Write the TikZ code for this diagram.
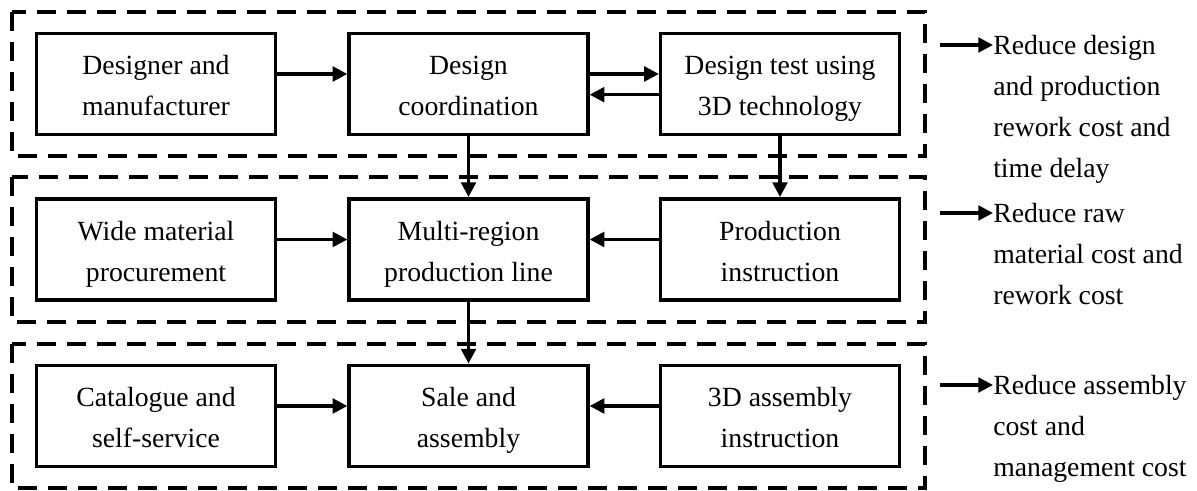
\documentclass[tikz,border=0pt]{standalone}
\usepackage{fontspec}
\setmainfont{Liberation Serif}
\usetikzlibrary{arrows.meta}
\newcommand\lnstrut{\rule[-6.75pt]{0pt}{30.75pt}}
\newcommand\twolines[2]{\lnstrut #1\\\lnstrut #2}
\begin{document}
\begin{tikzpicture}[x=0.75pt,y=-0.75pt,
  txt/.style={font=\fontsize{20.8}{30.75}\selectfont},
  procbox/.style={draw, line width=2.7pt, minimum width=179pt, minimum height=76pt, align=center, inner sep=0pt, txt},
  groupbox/.style={draw, line width=2.7pt, dash pattern=on 14pt off 8.5pt},
  arr/.style={line width=2.4pt, -{Triangle[length=11pt,width=11pt]}},
  sidetext/.style={align=left, inner sep=0pt, anchor=north west, txt}]
\useasboundingbox (0,0) rectangle (1197,491);
% group frames
\draw[groupbox] (12,12) rectangle (925,156);
\draw[groupbox] (12,177) rectangle (925,322);
\draw[groupbox] (12,344) rectangle (925,488);
% row 1
\node[procbox] (dm) at (156,84) {\twolines{Designer and}{manufacturer}};
\node[procbox] (dc) at (468.5,84) {\twolines{Design}{coordination}};
\node[procbox] (dt) at (780,84) {\twolines{Design test using}{3D technology}};
% row 2
\node[procbox] (wm) at (156,249.5) {\twolines{Wide material}{procurement}};
\node[procbox] (mr) at (468.5,249.5) {\twolines{Multi-region}{production line}};
\node[procbox] (pi) at (780,249.5) {\twolines{Production}{instruction}};
% row 3
\node[procbox] (cs) at (156,416) {\twolines{Catalogue and}{self-service}};
\node[procbox] (sa) at (468.5,416) {\twolines{Sale and}{assembly}};
\node[procbox] (ai) at (780,416) {\twolines{3D assembly}{instruction}};
% connectors
\draw[arr] ([yshift=7.5pt]dm.east) -- ([yshift=7.5pt]dc.west);
\draw[arr] ([yshift=7.5pt]dc.east) -- ([yshift=7.5pt]dt.west);
\draw[arr] ([yshift=-8pt]dt.west) -- ([yshift=-8pt]dc.east);
\draw[arr] (dc.south) -- (mr.north);
\draw[arr] (dt.south) -- (pi.north);
\draw[arr] ([yshift=7.5pt]wm.east) -- ([yshift=7.5pt]mr.west);
\draw[arr] ([yshift=7.5pt]pi.west) -- ([yshift=7.5pt]mr.east);
\draw[arr] (mr.south) -- (sa.north);
\draw[arr] ([yshift=7.5pt]cs.east) -- ([yshift=7.5pt]sa.west);
\draw[arr] ([yshift=7.5pt]ai.west) -- ([yshift=7.5pt]sa.east);
% side notes
\node[sidetext] (n1) at (993,35) {Reduce design\\and production\\rework cost and\\time delay};
\node[sidetext] (n2) at (993,203) {Reduce raw\\material cost and\\rework cost};
\node[sidetext] (n3) at (993,375) {Reduce assembly\\cost and\\management cost};
\coordinate (s1) at (940,45);
\coordinate (s2) at (940,213);
\coordinate (s3) at (940,385);
\draw[arr] (s1) -- (s1 -| n1.west);
\draw[arr] (s2) -- (s2 -| n2.west);
\draw[arr] (s3) -- (s3 -| n3.west);
\end{tikzpicture}
\end{document}
